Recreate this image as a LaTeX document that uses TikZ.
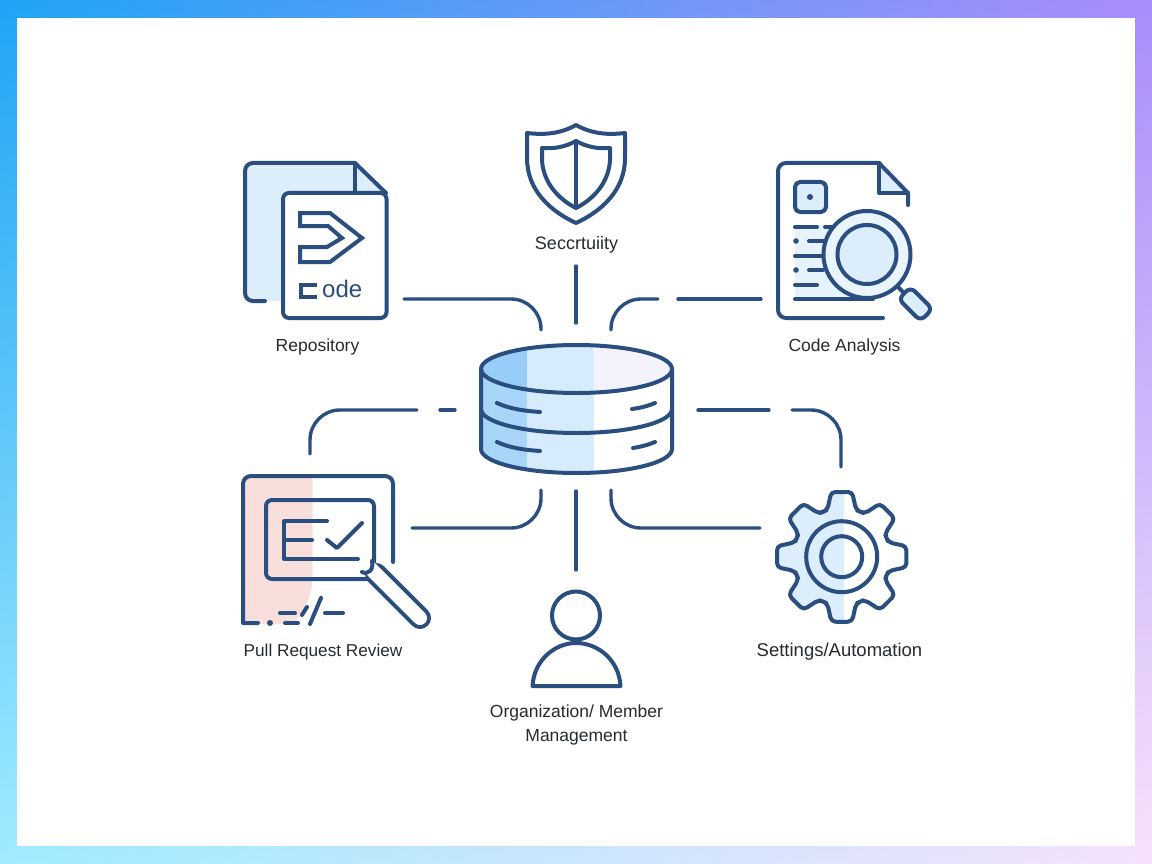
\documentclass[tikz,border=0pt]{standalone}
\usepackage{fontspec}
\usetikzlibrary{shadings}
\setmainfont{Liberation Sans}
\definecolor{navy}{HTML}{2B4E80}
\definecolor{ink}{HTML}{262B33}
\definecolor{pale}{HTML}{DCEDFC}
\definecolor{palepink}{HTML}{F8DFDC}
\definecolor{bandA}{HTML}{97CDF7}
\definecolor{bandAs}{HTML}{A8D6F9}
\definecolor{bandB}{HTML}{D6ECFD}
\definecolor{bandC}{HTML}{F3F2FD}
\definecolor{cornerTL}{HTML}{1EA4F5}
\definecolor{cornerTR}{HTML}{AA8CFB}
\definecolor{cornerBL}{HTML}{A0ECFF}
\definecolor{cornerBR}{HTML}{F7E2FB}
\tikzset{
  ln/.style={draw=navy,line width=4pt,line cap=round,line join=round},
  conn/.style={ln,line width=3.4pt,rounded corners=30pt},
  lab/.style={anchor=base,text=ink,font=\fontsize{17.5}{21}\selectfont,inner sep=0pt}
}
\def\gearpath{(90:65.5)
  \foreach \a in {90,45,0,-45,-90,-135,-180,-225}{
    -- (\a-9.2:65.5) -- (\a-17:49) -- (\a-22.5:48.5) -- (\a-28:49) -- (\a-35.8:65.5)
  } -- cycle}
\begin{document}
\begin{tikzpicture}[x=1pt,y=-1pt]
\useasboundingbox (0,0) rectangle (1152,864);
\shade[upper left=cornerTL,upper right=cornerTR,lower left=cornerBL,lower right=cornerBR]
  (0,0) rectangle (1152,864);
\fill[white] (17,18) rectangle (1135,846);

% ---------- central cylinder
\begin{scope}
  \clip (481,369) arc[start angle=180,end angle=360,x radius=95.5,y radius=24] -- (672,449)
        arc[start angle=0,end angle=180,x radius=95.5,y radius=24] -- cycle;
  \fill[bandAs] (481,345) rectangle (527,475);
  \fill[bandB] (527,345) rectangle (594,475);
  \fill[white] (594,345) rectangle (672,475);
  \begin{scope}
    \clip (576.5,369) ellipse[x radius=95.5,y radius=24];
    \fill[bandA] (481,345) rectangle (527,394);
    \fill[bandC] (594,345) rectangle (672,394);
  \end{scope}
\end{scope}
\draw[ln] (576.5,369) ellipse[x radius=95.5,y radius=24];
\draw[ln] (481,369) -- (481,449) arc[start angle=180,end angle=0,x radius=95.5,y radius=24] -- (672,369);
\draw[ln] (481,409) arc[start angle=180,end angle=0,x radius=95.5,y radius=24];
\draw[ln] (497,403) .. controls (510,409) and (525,411) .. (540,412);
\draw[ln] (497,442) .. controls (510,448) and (525,450) .. (540,451);
\draw[ln] (632,409) .. controls (640,408) and (648,406) .. (655,403);
\draw[ln] (633,448) .. controls (640,447) and (648,445) .. (655,442);

% ---------- connector end points
\coordinate (repoA) at (404,299);  \coordinate (repoB) at (541,330);
\coordinate (secA) at (576,266);   \coordinate (secB) at (576,323);
\coordinate (anaA) at (611,330);   \coordinate (anaB) at (658,299);
\coordinate (anaC) at (678,299);   \coordinate (anaD) at (761,299);
\coordinate (prtA) at (310,454);   \coordinate (prtB) at (417,410);
\coordinate (prtC) at (440,410);   \coordinate (prtD) at (455,410);
\coordinate (setA) at (698,410);   \coordinate (setB) at (769,410);
\coordinate (setC) at (792,410);   \coordinate (setD) at (841,467);
\coordinate (prbA) at (412,528);   \coordinate (prbB) at (541,490);
\coordinate (orgA) at (576,491);   \coordinate (orgB) at (576,570);
\coordinate (sebA) at (611,490);   \coordinate (sebB) at (760,528);
\draw[conn] (repoA) -| (repoB);
\draw[conn] (secA) -- (secB);
\draw[conn] (anaA) |- (anaB);
\draw[conn] (anaC) -- (anaD);
\draw[conn] (prtA) |- (prtB);
\draw[conn] (prtC) -- (prtD);
\draw[conn] (setA) -- (setB);
\draw[conn] (setC) -| (setD);
\draw[conn] (prbA) -| (prbB);
\draw[conn] (orgA) -- (orgB);
\draw[conn] (sebA) |- (sebB);

% ---------- repository
\fill[pale] (245,163) rectangle (356,301);
\fill[pale] (355,163) -- (386,193) -- (355,193) -- cycle;
\draw[ln,rounded corners=8pt] (265,301) -- (245,301) -- (245,163) -- (355,163);
\draw[ln] (355,163) -- (386,193);
\draw[ln] (355,163) -- (355,193);
\draw[ln,fill=white,rounded corners=6pt] (283,193) rectangle (386.5,318);
\draw[ln,line join=miter] (300,213) -- (330,213) -- (362,238) -- (330,262) -- (300,262) -- (300,247)
  -- (327,247) -- (342,238) -- (328,226) -- (300,226) -- cycle;
\draw[ln,line cap=butt,line join=miter,line width=4.5pt] (317,285) -- (301,285) -- (301,297) -- (317,297);
\node[anchor=base west,inner sep=0pt,text=navy,font=\fontsize{24}{26}\selectfont] (repoCode) at (322,297) {ode};
\node[lab] (repoLabel) at (317.5,351) {Repository};

% ---------- security
\draw[ln] (576,125) .. controls (592,134) and (608,135) .. (625,133) -- (625,158)
  .. controls (625,190) and (602,211) .. (576,223)
  .. controls (550,211) and (527,190) .. (527,158) -- (527,133)
  .. controls (544,135) and (560,134) .. (576,125) -- cycle;
\draw[ln] (576,141) .. controls (587,147) and (598,149) .. (610,148) -- (610,160)
  .. controls (609,182) and (594,199) .. (576,208)
  .. controls (558,199) and (543,182) .. (542,160) -- (542,148)
  .. controls (554,149) and (565,147) .. (576,141) -- cycle;
\draw[ln] (576,141) -- (576,208);
\node[lab,font=\fontsize{18}{21}\selectfont] (secLabel) at (576.5,249) {Seccrtuiity};

% ---------- code analysis
\fill[pale,opacity=.7] (795,225) rectangle (860,299);
\fill[pale] (879,163) -- (908,193) -- (879,193) -- cycle;
\draw[ln,rounded corners=8pt] (883,318) -- (778,318) -- (778,163) -- (879,163);
\draw[ln] (879,163) -- (908,193) -- (908,205);
\draw[ln] (879,163) -- (879,193) -- (908,193);
\draw[ln,fill=pale,rounded corners=5pt] (795,182) rectangle (826,212);
\fill[navy] (810,197) circle[radius=3];
\fill[navy] (796,241) circle[radius=2.8];
\fill[navy] (796,270) circle[radius=2.8];
\draw[ln] (795,227) -- (817,227);
\draw[ln] (825,227) -- (832,227);
\draw[ln] (809,241) -- (825,241);
\draw[ln] (795,256) -- (823,256);
\draw[ln] (809,270) -- (823,270);
\draw[ln] (795,285) -- (817,285);
\draw[ln] (795,299) -- (873,299);
\draw[ln,line cap=butt] (897,286) -- (906,295);
\draw[ln,fill=pale,rounded corners=6pt,rotate around={-45:(915.5,304)}] (900,295.5) rectangle (931,312.5);
\draw[ln,fill=pale!60!white] (867,254.5) circle[radius=43.5];
\draw[ln,fill=pale] (867,254.5) circle[radius=29.5];
\node[lab] (anaLabel) at (844.5,351) {Code Analysis};

% ---------- pull request review
\fill[palepink] (243,476) -- (312.5,476) -- (312.5,580) .. controls (311,600) and (304,612) .. (292,624) -- (243,624) -- cycle;
\draw[ln] (258,623) -- (243,623) [rounded corners=8pt] -- (243,476) -- (393,476) -- (393,562);
\fill[navy] (270,623) circle[radius=3];
\draw[ln] (280,613) -- (295,613);
\draw[ln] (285,623) -- (298,623);
\draw[ln] (302,615) -- (307,607);
\draw[ln] (310,624) -- (321,598);
\draw[ln] (325,613) -- (343,613);
\draw[ln,rounded corners=6pt] (266,500) rectangle (374,579);
\draw[ln] (327,521) -- (284,521) -- (284,559) -- (358,559);
\draw[ln] (284,540) -- (312,540);
\draw[ln] (327,540) -- (337,548) -- (362,523);
\draw[navy,line width=22pt,line cap=round] (376,574) -- (420,618);
\draw[white,line width=14pt,line cap=round] (370,568) -- (420,618);
\draw[ln] (362,572) .. controls (368,575) and (374,570) .. (372,561);
\node[lab] (prLabel) at (323,656) {\fontsize{17.2}{21}\selectfont Pull Request Review};

% ---------- organization / member
\draw[ln] (576,615.5) circle[radius=24];
\draw[ln] (532.5,686) .. controls (534,660) and (555,643) .. (576,643)
  .. controls (598,643) and (619,660) .. (620.5,686) -- cycle;
\node[lab] (orgLabelA) at (576.5,717) {Organization/ Member};
\node[lab] (orgLabelB) at (576.5,741) {Management};

% ---------- settings / automation
\begin{scope}[shift={(841.7,556.7)}]
  \begin{scope}
    \clip \gearpath;
    \fill[pale] (-70,-70) rectangle (2,70);
  \end{scope}
  \draw[ln,rounded corners=4pt] \gearpath;
  \draw[ln] (0,0) circle[radius=35.5];
  \draw[ln] (0,0) circle[radius=20.5];
\end{scope}
\node[lab] (setLabel) at (839.5,656) {\fontsize{18.5}{21}\selectfont Settings/Automation};
\end{tikzpicture}
\end{document}
